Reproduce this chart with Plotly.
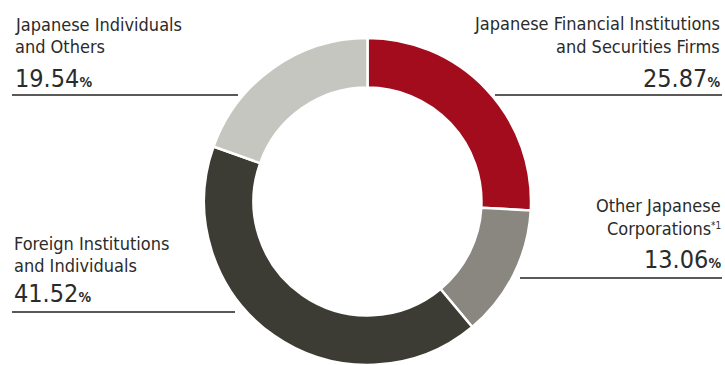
import plotly.graph_objects as go

# ---- data ----
categories = [
    "Japanese Financial Institutions and Securities Firms",
    "Other Japanese Corporations*1",
    "Foreign Institutions and Individuals",
    "Japanese Individuals and Others",
]
values = [25.87, 13.06, 41.52, 19.54]
colors = ["#A20C1C", "#8A8780", "#3D3C34", "#C5C6C0"]

label_lines = [
    ["Japanese Financial Institutions", "and Securities Firms"],
    ["Other Japanese", "Corporations<span style='font-size:14px'><sup>*1</sup></span>"],
    ["Foreign Institutions", "and Individuals"],
    ["Japanese Individuals", "and Others"],
]

W, H = 725, 365
FONT = "DejaVu Sans Condensed, Liberation Sans Narrow, Arial Narrow, sans-serif"
TXT = "#2b2b2b"

def px(x):
    return x / W

def py(y):
    return 1 - y / H

cx, cy, R = 367.5, 201.5, 163.5

fig = go.Figure(go.Pie(
    labels=categories, values=values, sort=False, direction="clockwise", rotation=0,
    hole=0.697, textinfo="none", hoverinfo="label+percent",
    marker=dict(colors=colors, line=dict(color="white", width=2.5)),
    domain=dict(x=[px(cx - R), px(cx + R)], y=[py(cy + R), py(cy - R)]),
    showlegend=False,
))

# label layout: (anchor x, align, baseline line1, baseline line2, baseline pct, line y, line x0, line x1)
layout_spec = [
    (721, "right", 30, 53, 87, 95, 495, 722),
    (722, "right", 212, 235, 268, 278, 520, 722),
    (13, "left", 250, 272, 302, 312, 12, 235),
    (14, "left", 31, 53, 87, 95, 12, 238),
]

annotations = []
shapes = []
fs = 18
pfs = 25
for i, (ax, al, b1, b2, bp, ly, lx0, lx1) in enumerate(layout_spec):
    for txt, b in zip(label_lines[i], (b1, b2)):
        annotations.append(dict(
            x=px(ax), y=py(b - 0.35 * fs), xref="paper", yref="paper",
            xanchor=al, yanchor="middle", showarrow=False, align=al,
            text=txt, font=dict(family=FONT, size=fs, color=TXT), borderpad=0,
        ))
    annotations.append(dict(
        x=px(ax), y=py(bp - 0.35 * pfs), xref="paper", yref="paper",
        xanchor=al, yanchor="middle", showarrow=False, align=al,
        text=f"{values[i]:.2f}<span style='font-size:14px'><b>%</b></span>",
        font=dict(family=FONT, size=pfs, color=TXT), borderpad=0,
    ))
    shapes.append(dict(type="line", xref="paper", yref="paper",
                       x0=px(lx0), x1=px(lx1), y0=py(ly), y1=py(ly),
                       line=dict(color="#222222", width=1.3)))

fig.update_layout(
    width=W, height=H, margin=dict(l=0, r=0, t=0, b=0),
    paper_bgcolor="white", plot_bgcolor="white",
    annotations=annotations, shapes=shapes,
)

fig.write_html("out.html")
